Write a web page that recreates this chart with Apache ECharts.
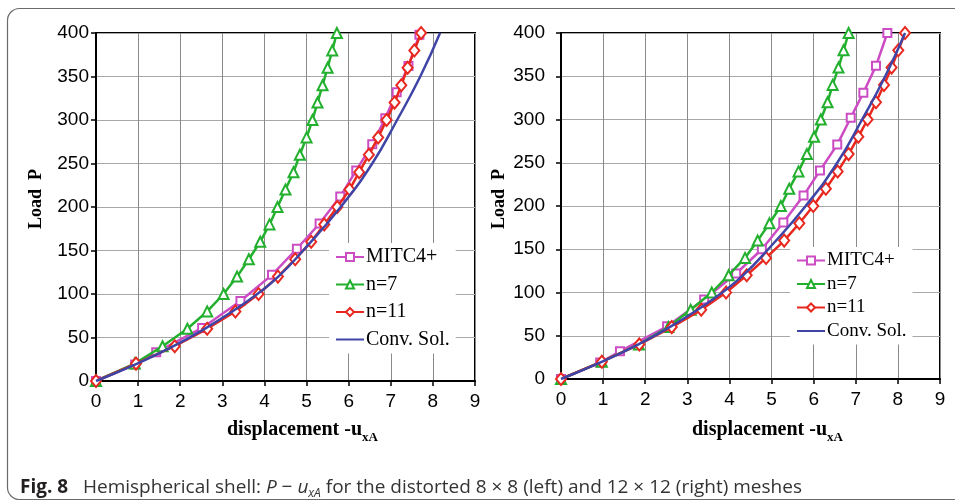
<!DOCTYPE html>
<html>
<head>
<meta charset="utf-8">
<script src="https://cdn.jsdelivr.net/npm/echarts@6/dist/echarts.min.js"></script>
<style>
html,body{margin:0;padding:0;background:#fff;}
#c{width:955px;height:504px;}
</style>
</head>
<body>
<div id="c"></div>
<script>
// ---- data ----
var loadSteps = [0,20,40,60,80,100,120,140,160,180,200,220,240,260,280,300,320,340,360,380,400];

// Left chart: distorted 8x8 mesh
var L_mitcX = [0, 0.93, 1.43, 2.52, 3.43, 4.18, 4.77, 5.31, 5.80, 6.18, 6.56, 6.87, 7.14, 7.42, 7.68];
var L_mitcP = [0, 19, 33, 61, 92, 122, 152, 181, 212, 242, 272, 302, 332, 362, 398];
var L_n7X  = [0, 0.92, 1.58, 2.17, 2.64, 3.03, 3.35, 3.63, 3.90, 4.12, 4.31, 4.50, 4.69, 4.84, 5.00, 5.14, 5.26, 5.38, 5.50, 5.61, 5.72];
var L_n11X = [0, 0.95, 1.87, 2.64, 3.31, 3.86, 4.32, 4.73, 5.11, 5.42, 5.73, 6.02, 6.25, 6.48, 6.70, 6.90, 7.09, 7.25, 7.40, 7.56, 7.72];

// Right chart: distorted 12x12 mesh
var R_mitcX = [0, 0.93, 1.40, 2.52, 3.40, 4.16, 4.77, 5.28, 5.76, 6.15, 6.56, 6.88, 7.18, 7.48, 7.75];
var R_mitcP = [0, 19, 32, 61, 92, 122, 150, 181, 212, 241, 271, 302, 331, 362, 400];
var R_n7X  = [0, 0.97, 1.85, 2.55, 3.08, 3.58, 3.98, 4.37, 4.67, 4.95, 5.22, 5.42, 5.64, 5.84, 6.01, 6.17, 6.33, 6.45, 6.59, 6.71, 6.83];
var R_n11X = [0, 0.97, 1.86, 2.63, 3.33, 3.92, 4.41, 4.87, 5.30, 5.66, 5.99, 6.29, 6.57, 6.83, 7.06, 7.28, 7.48, 7.67, 7.85, 8.01, 8.17];

// Converged solution (same for both)
var convX = [0, 0.98, 1.84, 2.58, 3.24, 3.83, 4.33, 4.92, 5.81, 6.56, 7.15, 7.70, 8.17];
var convP = [0, 20, 40, 60, 80, 100, 120, 150, 200, 250, 300, 350, 400];

var xTicks = [0,1,2,3,4,5,6,7,8,9];
var yTicks = [0,50,100,150,200,250,300,350,400];
var seriesNames = ['MITC4+', 'n=7', 'n=11', 'Conv. Sol.'];
var colors = ['#CC4CC4', '#22B02E', '#E8281E', '#3F45A6'];

function zip(xs, ys){ var out=[]; for(var i=0;i<xs.length;i++) out.push([xs[i], ys[i]]); return out; }

var SANS = 'Liberation Sans, Arial, sans-serif';
var SERIF = 'Liberation Serif, Times New Roman, serif';
var CAP = 'Open Sans, Noto Sans, sans-serif';

function mkX(gi){
  return {
    type:'value', gridIndex:gi, min:xTicks[0], max:xTicks[xTicks.length-1], interval:1,
    axisLine:{show:true, onZero:false, lineStyle:{color:'#000', width:2}},
    axisTick:{show:true, inside:false, length:5, lineStyle:{color:'#000', width:1.5}},
    axisLabel:{color:'#000', fontSize:19, fontFamily:SANS, margin:11},
    splitLine:{show:true, lineStyle:{color:'#8a8a8a', width:1}}
  };
}
function mkY(gi, margin){
  return {
    type:'value', gridIndex:gi, min:yTicks[0], max:yTicks[yTicks.length-1], interval:50,
    axisLine:{show:true, onZero:false, lineStyle:{color:'#000', width:2}},
    axisTick:{show:true, inside:false, length:5, lineStyle:{color:'#000', width:1.5}},
    axisLabel:{color:'#000', fontSize:19, fontFamily:SANS, margin:margin},
    splitLine:{show:true, lineStyle:{color:'#a8a8a8', width:1}}
  };
}
function mkSeries(name, idx, gi, data, symbol, size, smooth){
  return {
    name:name, type:'line', xAxisIndex:gi, yAxisIndex:gi, data:data,
    symbol:symbol, symbolSize:size, showSymbol: symbol !== 'none', smooth: !!smooth,
    lineStyle:{color:colors[idx], width:2.5},
    itemStyle:{color: symbol==='none' ? colors[idx] : '#fff', borderColor:colors[idx], borderWidth:2},
    emphasis:{disabled:true}, animation:false, z: 2+idx
  };
}

var series = [];
[[L_mitcX,L_mitcP,L_n7X,L_n11X],[R_mitcX,R_mitcP,R_n7X,R_n11X]].forEach(function(d, gi){
  series.push(mkSeries(seriesNames[0], 0, gi, zip(d[0], d[1]), 'rect', 8));
  series.push(mkSeries(seriesNames[1], 1, gi, zip(d[2], loadSteps), 'triangle', 10));
  series.push(mkSeries(seriesNames[2], 2, gi, zip(d[3], loadSteps), 'diamond', [10,12]));
  series.push(mkSeries(seriesNames[3], 3, gi, zip(convX, convP), 'none', 0, true));
});

function mkLegend(left, top, fs, gap){
  return {
    orient:'vertical', left:left, top:top, padding:[4,6,4,6], backgroundColor:'#fff',
    itemWidth:28, itemHeight:10, itemGap:gap,
    data: seriesNames.slice(0,3).concat([{name:seriesNames[3], itemStyle:{opacity:0}}]),
    textStyle:{color:'#000', fontFamily:SERIF, fontSize:fs, lineHeight:fs, padding:[0,0,0,-3]},
    selectedMode:false
  };
}

function axisName(cx, cy){
  return {
    type:'text', left:cx, top:cy,
    style:{
      text:'{m|displacement -u}{s|xA}',
      rich:{
        m:{fontFamily:SERIF, fontWeight:'bold', fontSize:20, fill:'#000', verticalAlign:'bottom', lineHeight:22},
        s:{fontFamily:SERIF, fontWeight:'bold', fontSize:13, fill:'#000', verticalAlign:'bottom', lineHeight:15, padding:[0,0,-4,0]}
      }
    }
  };
}
function loadName(cx, cy){
  return {
    type:'text', x:cx, y:cy, rotation:Math.PI/2,
    style:{text:'Load  P', font:'bold 18px ' + SERIF, fill:'#000', align:'center', verticalAlign:'middle'}
  };
}

var chart = echarts.init(document.getElementById('c'), null, {renderer:'canvas'});
chart.setOption({
  animation:false,
  backgroundColor:'#fff',
  grid:[
    {left:96, top:33, width:379, height:348, show:true, borderColor:'#000', borderWidth:2, backgroundColor:'transparent', containLabel:false},
    {left:561, top:33, width:379, height:346, show:true, borderColor:'#000', borderWidth:2, backgroundColor:'transparent', containLabel:false}
  ],
  xAxis:[mkX(0), mkX(1)],
  yAxis:[mkY(0, 7), mkY(1, 16)],
  legend:[mkLegend(329, 243, 20, 7.5), mkLegend(790, 247, 19, 4.5)],
  series: series,
  graphic:[
    {type:'rect', shape:{x:7.5, y:8.5, width:980, height:491, r:12}, style:{fill:'none', stroke:'#6a6a6a', lineWidth:1.2}, silent:true},
    axisName(227, 420),
    axisName(692, 420),
    loadName(36, 199),
    loadName(499, 199),
    {
      type:'text', left:20, top:478,
      style:{
        text:'{b|Fig. 8}{n|   Hemispherical shell: }{i|P}{n| − }{i|u}{is|xA}{n| for the distorted 8 × 8 (left) and 12 × 12 (right) meshes}',
        rich:{
          b:{fontFamily:CAP, fontWeight:'bold', fontSize:19, fill:'#231f20', lineHeight:22, verticalAlign:'bottom'},
          n:{fontFamily:CAP, fontSize:19, fill:'#333', lineHeight:22, verticalAlign:'bottom'},
          i:{fontFamily:CAP, fontStyle:'italic', fontSize:19, fill:'#333', lineHeight:22, verticalAlign:'bottom'},
          is:{fontFamily:CAP, fontStyle:'italic', fontSize:12, fill:'#333', lineHeight:14, verticalAlign:'bottom', padding:[0,0,-3,0]}
        }
      }
    }
  ]
});
</script>
</body>
</html>
